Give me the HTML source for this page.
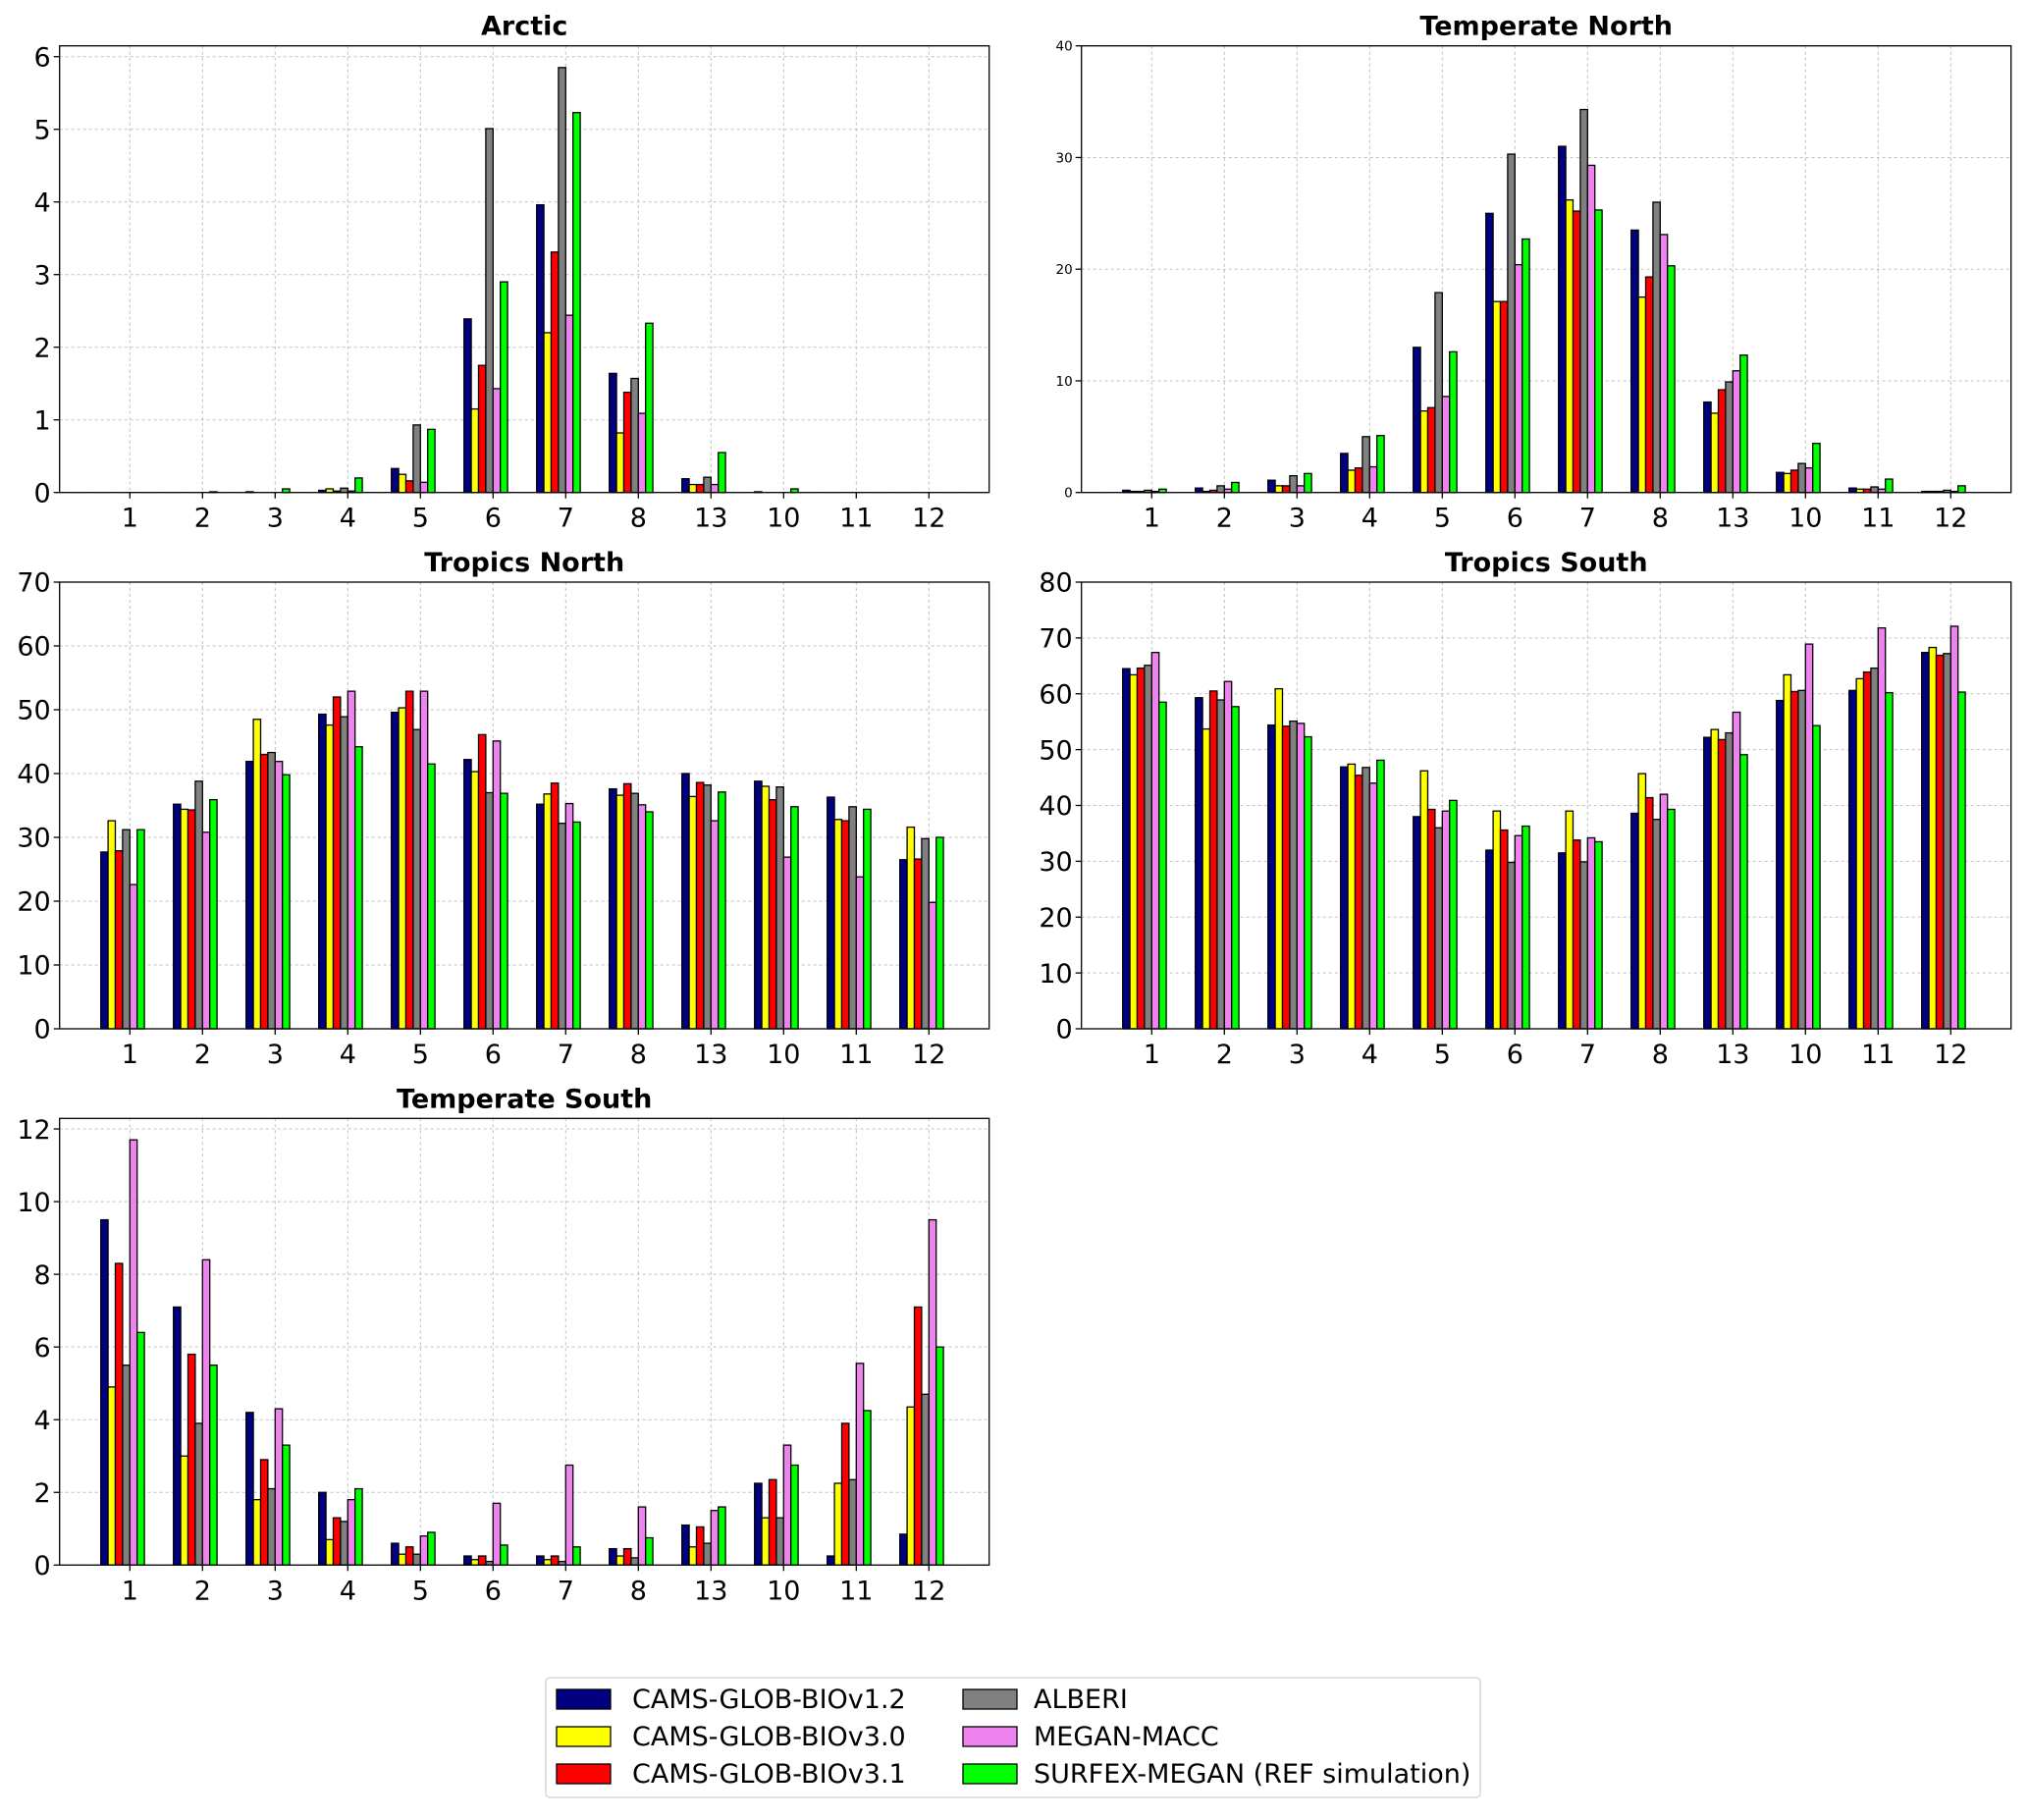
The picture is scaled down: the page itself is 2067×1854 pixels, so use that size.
<!DOCTYPE html>
<html><head><meta charset="utf-8"><style>
body{margin:0;background:#fff;}
svg{display:block;font-family:"DejaVu Sans","Liberation Sans",sans-serif;}
</style></head><body>
<svg id="fig" width="2067" height="1854" viewBox="0 0 2067 1854" xmlns="http://www.w3.org/2000/svg"></svg>
<script>
const categories = ["1","2","3","4","5","6","7","8","13","10","11","12"];
const seriesNames = ["CAMS-GLOB-BIOv1.2","CAMS-GLOB-BIOv3.0","CAMS-GLOB-BIOv3.1","ALBERI","MEGAN-MACC","SURFEX-MEGAN (REF simulation)"];
const seriesColors = ["#000080","#ffff00","#ff0000","#808080","#ee82ee","#00ff00"];

const arcticV12 = [0,0,0.01,0.03,0.33,2.39,3.96,1.64,0.19,0.01,0,0];
const arcticV30 = [0,0,0,0.05,0.25,1.15,2.2,0.82,0.11,0,0,0];
const arcticV31 = [0,0,0,0.02,0.16,1.75,3.31,1.38,0.11,0,0,0];
const arcticAlberi = [0,0,0,0.06,0.93,5.01,5.85,1.57,0.21,0,0,0];
const arcticMegan = [0,0,0,0.02,0.14,1.43,2.44,1.09,0.11,0,0,0];
const arcticSurfex = [0,0.01,0.05,0.2,0.87,2.9,5.23,2.33,0.55,0.05,0,0];

const tnV12 = [0.2,0.4,1.1,3.5,13,25,31,23.5,8.1,1.8,0.4,0.1];
const tnV30 = [0.1,0.1,0.6,2,7.3,17.1,26.2,17.5,7.1,1.7,0.3,0.1];
const tnV31 = [0.1,0.2,0.6,2.2,7.6,17.1,25.2,19.3,9.2,2,0.3,0.1];
const tnAlberi = [0.2,0.6,1.5,5,17.9,30.3,34.3,26,9.9,2.6,0.5,0.2];
const tnMegan = [0.1,0.3,0.6,2.3,8.6,20.4,29.3,23.1,10.9,2.2,0.3,0.1];
const tnSurfex = [0.3,0.9,1.7,5.1,12.6,22.7,25.3,20.3,12.3,4.4,1.2,0.6];

const trnV12 = [27.7,35.2,41.9,49.3,49.6,42.2,35.2,37.6,40.0,38.8,36.3,26.5];
const trnV30 = [32.6,34.4,48.5,47.6,50.3,40.3,36.8,36.6,36.4,38.0,32.8,31.6];
const trnV31 = [27.9,34.3,43.0,52.0,52.9,46.1,38.5,38.4,38.6,35.9,32.6,26.6];
const trnAlberi = [31.2,38.8,43.3,48.9,46.9,37.0,32.2,36.9,38.2,37.9,34.8,29.8];
const trnMegan = [22.6,30.8,41.9,52.9,52.9,45.1,35.3,35.1,32.6,26.9,23.8,19.8];
const trnSurfex = [31.2,35.9,39.8,44.2,41.5,36.9,32.4,34.0,37.1,34.8,34.4,30.0];

const trsV12 = [64.5,59.3,54.4,46.9,38.0,32.0,31.5,38.6,52.2,58.8,60.6,67.4];
const trsV30 = [63.4,53.7,60.9,47.4,46.2,39.0,39.0,45.7,53.6,63.4,62.7,68.3];
const trsV31 = [64.6,60.5,54.2,45.4,39.3,35.6,33.8,41.4,51.8,60.4,63.9,66.9];
const trsAlberi = [65.1,58.9,55.1,46.8,36.0,29.8,29.9,37.5,53.0,60.6,64.6,67.2];
const trsMegan = [67.4,62.2,54.7,44.0,39.0,34.6,34.2,42.0,56.7,68.9,71.8,72.1];
const trsSurfex = [58.5,57.7,52.3,48.1,40.9,36.3,33.5,39.3,49.1,54.3,60.2,60.3];

const tsV12 = [9.5,7.1,4.2,2.0,0.6,0.25,0.25,0.45,1.1,2.25,0.25,0.85];
const tsV30 = [4.9,3.0,1.8,0.7,0.3,0.15,0.15,0.25,0.5,1.3,2.25,4.35];
const tsV31 = [8.3,5.8,2.9,1.3,0.5,0.25,0.25,0.45,1.05,2.35,3.9,7.1];
const tsAlberi = [5.5,3.9,2.1,1.2,0.3,0.1,0.1,0.2,0.6,1.3,2.35,4.7];
const tsMegan = [11.7,8.4,4.3,1.8,0.8,1.7,2.75,1.6,1.5,3.3,5.55,9.5];
const tsSurfex = [6.4,5.5,3.3,2.1,0.9,0.55,0.5,0.75,1.6,2.75,4.25,6.0];

const arcticTicks = [0,1,2,3,4,5,6];
const tnTicks = [0,10,20,30,40];
const trnTicks = [0,10,20,30,40,50,60,70];
const trsTicks = [0,10,20,30,40,50,60,70,80];
const tsTicks = [0,2,4,6,8,10,12];

const NS="http://www.w3.org/2000/svg";
const svg=document.getElementById('fig');
function mk(tag,attrs,parent){const e=document.createElementNS(NS,tag);for(const k in attrs)e.setAttribute(k,attrs[k]);(parent||svg).appendChild(e);return e;}

const AX_W=947, AX_H=455, FS=27;
function panel(key,title,x0,y0,ymax,ticks,series,smallTicks){
  const g=mk('g',{});
  
  
  const xScale=i=>x0+71.6+i*74.0;
  const yScale=v=>y0+AX_H-v/ymax*AX_H;
  categories.forEach((c,i)=>{
    const l=mk('line',{x1:xScale(i),x2:xScale(i),y1:y0,y2:y0+AX_H,stroke:'#c0c0c0','stroke-width':1,'stroke-dasharray':'3,3'},g);
    
    
  });
  ticks.forEach(t=>{
    const l=mk('line',{x1:x0,x2:x0+AX_W,y1:yScale(t),y2:yScale(t),stroke:'#c0c0c0','stroke-width':1,'stroke-dasharray':'3,3'},g);
    
    
  });
  const bw=0.1*74.0;
  series.forEach((arr,s)=>{
    arr.forEach((v,i)=>{
      const x=xScale(i)+(s-4)*bw;
      const y=yScale(v);
      const r=mk('rect',{x:x,y:y,width:bw,height:Math.max(0,y0+AX_H-y),fill:seriesColors[s],stroke:'#000','stroke-width':1.3},g);
      
      
    });
  });
  const f=mk('rect',{x:x0,y:y0,width:AX_W,height:AX_H,fill:'none',stroke:'#000','stroke-width':1.3},g);
  
  
  categories.forEach((c,i)=>{
    mk('line',{x1:xScale(i),x2:xScale(i),y1:y0+AX_H,y2:y0+AX_H+6,stroke:'#000','stroke-width':1.3},g);
    const t=mk('text',{x:xScale(i),y:y0+AX_H+35,'font-size':FS,'text-anchor':'middle',fill:'#000'},g);
    t.textContent=c;
    
    
  });
  const fs=smallTicks?13.5:FS;
  ticks.forEach(v=>{
    mk('line',{x1:x0-6,x2:x0,y1:yScale(v),y2:yScale(v),stroke:'#000','stroke-width':1.3},g);
    const t=mk('text',{x:x0-9,y:yScale(v)+fs*0.36,'font-size':fs,'text-anchor':'end',fill:'#000'},g);
    t.textContent=v;
    
    
  });
  const tt=mk('text',{x:x0+AX_W/2,y:y0-11,'font-size':FS,'font-weight':'bold','text-anchor':'middle',fill:'#000'},g);
  tt.textContent=title;
  
  
}
panel('arctic','Arctic',60.7,46.7,6.149,arcticTicks,[arcticV12,arcticV30,arcticV31,arcticAlberi,arcticMegan,arcticSurfex],false);
panel('temperate-north','Temperate North',1101.7,46.7,40,tnTicks,[tnV12,tnV30,tnV31,tnAlberi,tnMegan,tnSurfex],true);
panel('tropics-north','Tropics North',60.7,593,70,trnTicks,[trnV12,trnV30,trnV31,trnAlberi,trnMegan,trnSurfex],false);
panel('tropics-south','Tropics South',1101.7,593,80,trsTicks,[trsV12,trsV30,trsV31,trsAlberi,trsMegan,trsSurfex],false);
panel('temperate-south','Temperate South',60.7,1139.3,12.29,tsTicks,[tsV12,tsV30,tsV31,tsAlberi,tsMegan,tsSurfex],false);

const lg=mk('g',{});


const lb=mk('rect',{x:556,y:1709,width:952,height:122,rx:4,fill:'#fff',stroke:'#d0d0d0','stroke-width':1.3},lg);


seriesNames.forEach((n,s)=>{
  const col=Math.floor(s/3), row=s%3;
  const px=col?981:567, tx=col?1053:644, cy=1731+row*38;
  const p=mk('rect',{x:px,y:cy-10,width:55,height:20,fill:seriesColors[s],stroke:'#000','stroke-width':1.3},lg);
  
  
  const t=mk('text',{x:tx,y:cy+9,'font-size':FS,fill:'#000'},lg);
  t.textContent=n;
  
  
});
</script>
</body></html>
